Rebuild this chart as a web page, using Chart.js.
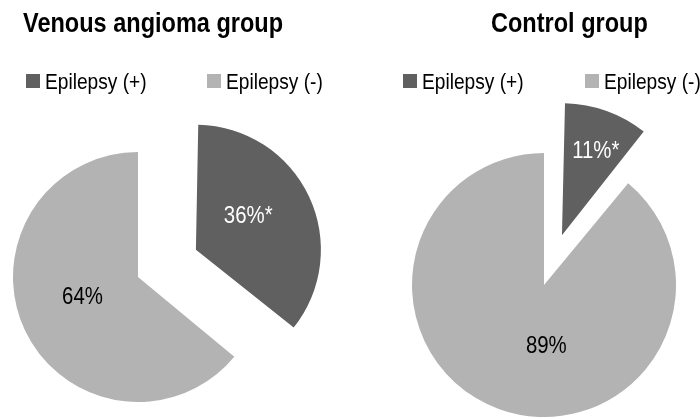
<!DOCTYPE html>
<html>
<head>
<meta charset="utf-8">
<script src="https://cdn.jsdelivr.net/npm/chart.js@4/dist/chart.umd.min.js"></script>
<style>
  html, body { margin: 0; padding: 0; background: #ffffff; overflow: hidden; }
  #wrap { position: relative; width: 700px; height: 419px; }
  canvas { position: absolute; top: 0; }
  #c1 { left: 0; }
  #c2 { left: 350px; }
</style>
</head>
<body>
<div id="wrap">
  <canvas id="c1" width="350" height="419"></canvas>
  <canvas id="c2" width="350" height="419"></canvas>
</div>
<script>
// ---- data ----
const categories = ['Epilepsy (+)', 'Epilepsy (-)'];
const venousValues = [36, 64];
const controlValues = [11, 89];
const chartTitles = ['Venous angioma group', 'Control group'];
const significanceMarks = ['*', ''];
const sliceColors = ['#606060', '#b3b3b3'];
const labelColors = ['#ffffff', '#000000'];

const FONT = "'Liberation Sans', Arial, sans-serif";
const NARROW_LEGEND = 0.87; // horizontal squeeze to mimic a narrow face
const NARROW_LABEL = 0.85;
const NARROW_BOLD = 0.84;

// Exploded slices keep the same radius as the rest of the pie
// (Chart.js v4 otherwise enlarges an offset arc a little).
const baseArcDraw = Chart.ArcElement.prototype.draw;
Chart.ArcElement.prototype.draw = function (ctx) {
  const offset = (this.options.offset || 0) / 4;
  const fix = 1 - Math.sin(Math.min(Math.PI, this.circumference || 0));
  const saved = this.outerRadius;
  this.outerRadius = saved - offset * fix;
  baseArcDraw.call(this, ctx);
  this.outerRadius = saved;
};

function narrowText(ctx, text, x, y, squeeze, align) {
  ctx.save();
  ctx.translate(x, y);
  ctx.scale(squeeze, 1);
  ctx.textAlign = align;
  ctx.fillText(text, 0, 0);
  ctx.restore();
}

// plugin: title, legend and value labels
const decorPlugin = {
  id: 'decor',
  afterDatasetsDraw(chart, args, opts) {
    const ctx = chart.ctx;
    ctx.save();
    // title
    ctx.fillStyle = '#000';
    ctx.font = 'bold 28px ' + FONT;
    ctx.textBaseline = 'alphabetic';
    narrowText(ctx, opts.title, opts.titleX, opts.titleY, NARROW_BOLD, 'left');
    // legend
    ctx.font = '22px ' + FONT;
    const labels = chart.data.labels;
    const ds = chart.data.datasets[0];
    labels.forEach((lab, i) => {
      ctx.fillStyle = ds.backgroundColor[i];
      ctx.fillRect(opts.legendX[i], opts.legendY - 15, 14, 14);
      ctx.fillStyle = '#000';
      narrowText(ctx, lab, opts.legendX[i] + 19, opts.legendY, NARROW_LEGEND, 'left');
    });
    // value labels
    const meta = chart.getDatasetMeta(0);
    ctx.font = '24px ' + FONT;
    ctx.textBaseline = 'middle';
    meta.data.forEach((arc, i) => {
      const p = arc.getProps(['x', 'y', 'startAngle', 'endAngle', 'outerRadius'], true);
      const off = (arc.options.offset || 0) / 4;   // Chart.js v4 translates arcs by offset/4
      const mid = (p.startAngle + p.endAngle) / 2;
      const vx = p.x + Math.cos(mid) * off;
      const vy = p.y + Math.sin(mid) * off;
      const a = mid + opts.labelShift[i] * Math.PI / 180;
      const d = opts.labelDist[i] * p.outerRadius;
      ctx.fillStyle = labelColors[i];
      narrowText(ctx, ds.data[i] + '%' + significanceMarks[i],
        vx + Math.cos(a) * d, vy + Math.sin(a) * d + 1, NARROW_LABEL, 'center');
    });
    ctx.restore();
  }
};

function makePie(id, values, title, radius, offset, padding, decor) {
  return new Chart(document.getElementById(id), {
    type: 'pie',
    data: {
      labels: categories,
      datasets: [{
        data: values,
        backgroundColor: sliceColors,
        borderWidth: 0,
        offset: [offset * 4, 0],
        hoverOffset: 0,
        radius: radius,
        clip: false
      }]
    },
    options: {
      responsive: false,
      animation: false,
      devicePixelRatio: 1,
      layout: { padding: padding },
      events: [],
      plugins: {
        legend: { display: false },
        title: { display: false },
        tooltip: { enabled: false },
        decor: Object.assign({ title: title }, decor)
      }
    },
    plugins: [decorPlugin]
  });
}

makePie('c1', venousValues, chartTitles[0], 125, 64,
  { left: 0, right: 74, top: 139, bottom: 4 },
  { titleX: 23, titleY: 32, legendX: [26, 207], legendY: 89,
    labelDist: [0.50, 0.47], labelShift: [-8, 6] });

makePie('c2', controlValues, chartTitles[1], 132, 53,
  { left: 62, right: 24, top: 153, bottom: 2 },
  { titleX: 141, titleY: 32, legendX: [53, 235], legendY: 89,
    labelDist: [0.69, 0.46], labelShift: [2, -22] });
</script>
</body>
</html>
